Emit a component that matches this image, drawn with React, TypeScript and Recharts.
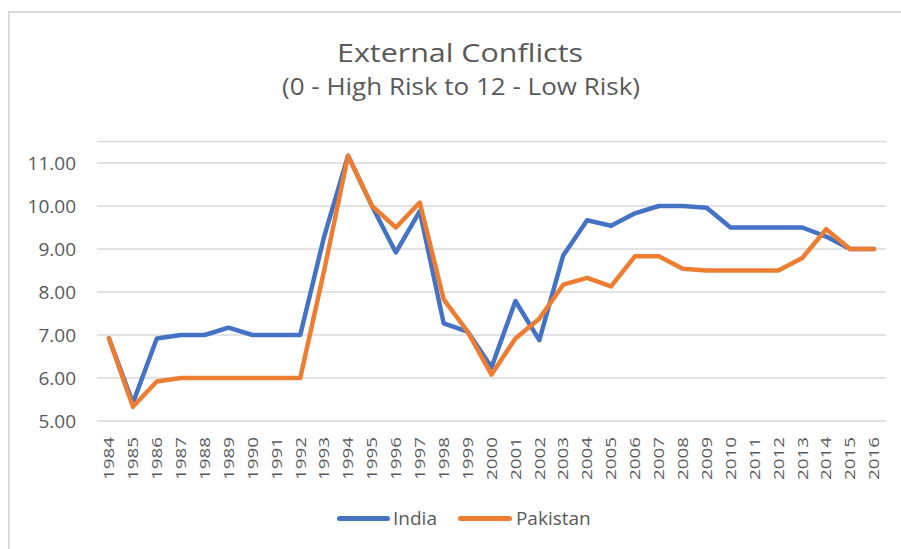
import { LineChart, Line, XAxis, YAxis, CartesianGrid } from "recharts";

const years = [
  "1984", "1985", "1986", "1987", "1988", "1989", "1990", "1991", "1992",
  "1993", "1994", "1995", "1996", "1997", "1998", "1999", "2000", "2001",
  "2002", "2003", "2004", "2005", "2006", "2007", "2008", "2009", "2010",
  "2011", "2012", "2013", "2014", "2015", "2016",
];

const india = [
  6.92, 5.42, 6.92, 7.0, 7.0, 7.17, 7.0, 7.0, 7.0,
  9.29, 11.17, 10.0, 8.92, 9.88, 7.27, 7.08, 6.25, 7.79,
  6.88, 8.85, 9.67, 9.54, 9.83, 10.0, 10.0, 9.96, 9.5,
  9.5, 9.5, 9.5, 9.29, 9.0, 9.0,
];

const pakistan = [
  6.92, 5.33, 5.92, 6.0, 6.0, 6.0, 6.0, 6.0, 6.0,
  8.5, 11.17, 10.0, 9.5, 10.08, 7.83, 7.08, 6.08, 6.92,
  7.38, 8.17, 8.33, 8.13, 8.83, 8.83, 8.54, 8.5, 8.5,
  8.5, 8.5, 8.79, 9.46, 9.0, 9.0,
];

const yTicks = [5, 6, 7, 8, 9, 10, 11];

const data = years.map((year, i) => ({
  year,
  India: india[i],
  Pakistan: pakistan[i],
}));

const FONT = "'Open Sans', sans-serif";
const TEXT = "#595959";
const BLUE = "#4472c4";
const ORANGE = "#ed7d31";

// eslint-disable-next-line @typescript-eslint/no-explicit-any
function YearTick({ x, y, payload }: any) {
  return (
    <text
      x={x}
      y={y + 16}
      transform={`rotate(-90, ${x}, ${y + 16})`}
      textAnchor="end"
      dy="0.35em"
      fontFamily={FONT}
      fontSize={15}
      fill={TEXT}
      textLength={43}
      lengthAdjust="spacingAndGlyphs"
    >
      {payload.value}
    </text>
  );
}

export default function App() {
  return (
    <div
      style={{
        position: "absolute",
        left: 0,
        top: 0,
        width: 901,
        height: 549,
        background: "#fff",
        overflow: "hidden",
      }}
    >
      <div
        style={{
          position: "absolute",
          left: 8,
          top: 11,
          width: 900,
          height: 545,
          borderLeft: "2px solid #d9d9d9",
          borderTop: "2px solid #d9d9d9",
        }}
      />
      <svg
        width={901}
        height={120}
        style={{ position: "absolute", left: 0, top: 0 }}
      >
        <text
          x={460}
          y={62}
          textAnchor="middle"
          fontFamily={FONT}
          fontSize={25}
          fill={TEXT}
          textLength={246}
          lengthAdjust="spacingAndGlyphs"
        >
          External Conflicts
        </text>
        <text
          x={461}
          y={95}
          textAnchor="middle"
          fontFamily={FONT}
          fontSize={23}
          fill={TEXT}
          textLength={358}
          lengthAdjust="spacingAndGlyphs"
        >
          (0 - High Risk to 12 - Low Risk)
        </text>
      </svg>
      <div style={{ position: "absolute", left: 0, top: 0 }}>
        <LineChart
          width={901}
          height={549}
          data={data}
          margin={{ top: 141.5, right: 15, bottom: 0, left: 0 }}
        >
          <CartesianGrid vertical={false} stroke="#d9d9d9" strokeWidth={1.5} />
          <XAxis
            dataKey="year"
            interval={0}
            height={128}
            padding={{ left: 12, right: 12 }}
            axisLine={false}
            tickLine={false}
            tickSize={0}
            tickMargin={0}
            tick={<YearTick />}
          />
          <YAxis
            domain={[5, 11.5]}
            ticks={yTicks}
            allowDataOverflow
            width={97}
            axisLine={false}
            tickLine={false}
            tickSize={0}
            tickMargin={21}
            tickFormatter={(v: number) => v.toFixed(2)}
            tick={{ fontFamily: FONT, fontSize: 19, fill: TEXT }}
          />
          <Line
            dataKey="India"
            stroke={BLUE}
            strokeWidth={4.5}
            strokeLinecap="round"
            strokeLinejoin="round"
            dot={false}
            isAnimationActive={false}
          />
          <Line
            dataKey="Pakistan"
            stroke={ORANGE}
            strokeWidth={4.5}
            strokeLinecap="round"
            strokeLinejoin="round"
            dot={false}
            isAnimationActive={false}
          />
        </LineChart>
      </div>
      <div
        style={{
          position: "absolute",
          left: 337,
          top: 506,
          height: 24,
          display: "flex",
          alignItems: "center",
          fontFamily: FONT,
          fontSize: 19,
          color: TEXT,
          whiteSpace: "nowrap",
        }}
      >
        <span
          style={{
            width: 53,
            height: 5,
            borderRadius: 3,
            background: BLUE,
            marginRight: 3,
          }}
        />
        <span>India</span>
        <span
          style={{
            width: 54,
            height: 5,
            borderRadius: 3,
            background: ORANGE,
            marginLeft: 21,
            marginRight: 4,
          }}
        />
        <span>Pakistan</span>
      </div>
    </div>
  );
}
